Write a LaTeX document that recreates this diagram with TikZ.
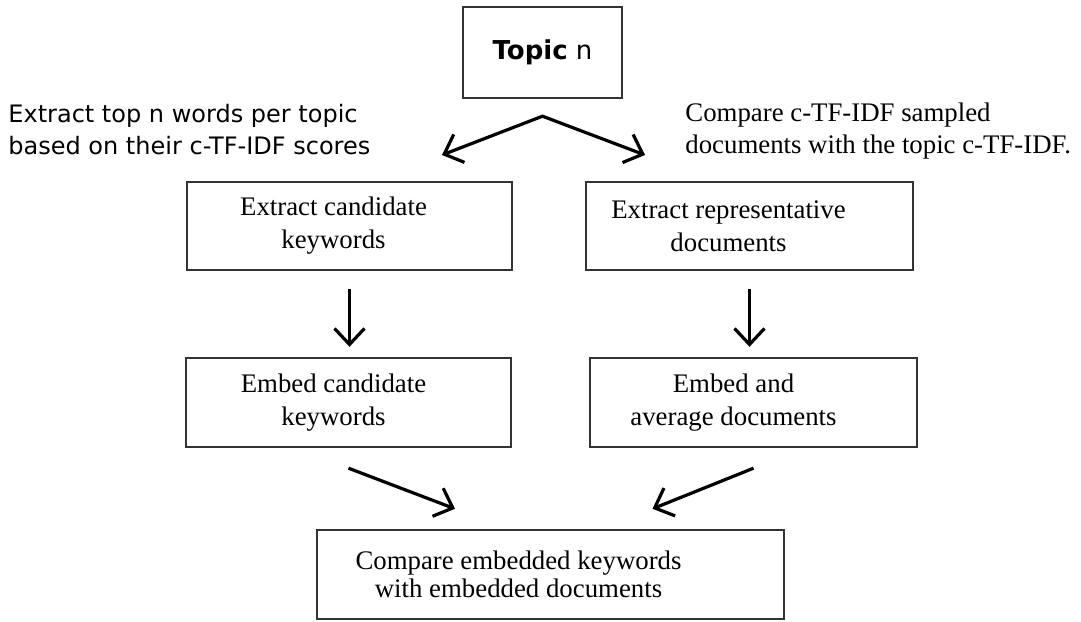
\documentclass[tikz,border=0pt]{standalone}
\usepackage{fontspec}
\setmainfont{Liberation Serif}
\newfontfamily\tahoma{DejaVu Sans}
\usetikzlibrary{arrows.meta,calc}

\tikzset{
  stepbox/.style={draw=black!80, line width=1.2pt, inner sep=0pt, align=center,
    font=\fontsize{13.4pt}{16.5pt}\selectfont},
  arr/.style={line width=1.6pt, -{Straight Barb[length=8pt,width=15pt]}},
  arrbi/.style={line width=1.6pt, {Straight Barb[length=8pt,width=15pt]}-{Straight Barb[length=8pt,width=15pt]}},
}

\begin{document}
\begin{tikzpicture}[x=0.5pt,y=-0.5pt]
\fill[white] (0,0) rectangle (1081,621);
\useasboundingbox (0,0) rectangle (1081,621);

% boxes
\node[stepbox, minimum width=79.5pt, minimum height=45.5pt, font=\tahoma\fontsize{13pt}{15pt}\selectfont] (topic) at (542.5,52.5) {\textbf{Topic} n};
\node[stepbox, minimum width=162.5pt, minimum height=44pt] (cand) at (349.5,226) {Extract candidate\hspace*{16pt}\\keywords\hspace*{16pt}};
\node[stepbox, minimum width=163.5pt, minimum height=44pt] (repr) at (749.5,226) {Extract representative\hspace*{21pt}\\documents\hspace*{21pt}};
\node[stepbox, minimum width=162.5pt, minimum height=44.5pt] (embkw) at (348.5,402.5) {Embed candidate\hspace*{15pt}\\keywords\hspace*{15pt}};
\node[stepbox, minimum width=163.5pt, minimum height=44.5pt] (embdoc) at (753.5,402.5) {Embed and\hspace*{20pt}\\average documents\hspace*{20pt}};
\node[stepbox, minimum width=233.5pt, minimum height=44.5pt, font=\fontsize{13.4pt}{14pt}\selectfont] (cmp) at (550.5,574.5) {Compare embedded keywords\hspace*{32pt}\\with embedded documents\hspace*{32pt}};

% side notes
\node[anchor=west, align=left, inner sep=0pt, font=\tahoma\fontsize{12pt}{16pt}\selectfont] (notel) at (8,130) {Extract top n words per topic\\based on their c-TF-IDF scores};
\node[anchor=west, align=left, inner sep=0pt, font=\fontsize{13.4pt}{16pt}\selectfont] (noter) at (685,131) {Compare c-TF-IDF sampled\\documents with the topic c-TF-IDF.};

% arrows
\coordinate (split) at ([yshift=-8.5pt]topic.south);
\coordinate (tipl) at (442,155);
\coordinate (tipr) at (645,155);
\draw[arrbi] (tipl) -- (split) -- (tipr);
\draw[arr] ([yshift=-9pt]cand.south) -- ([yshift=5pt]cand.south |- embkw.north);
\draw[arr] ([yshift=-9pt]repr.south) -- ([yshift=5pt]repr.south |- embdoc.north);
\draw[arr] ([yshift=-10pt]embkw.south) -- ([xshift=-47.75pt,yshift=10pt]cmp.north);
\draw[arr] ([yshift=-10pt]embdoc.south) -- ([xshift=51pt,yshift=10pt]cmp.north);

\end{tikzpicture}
\end{document}
